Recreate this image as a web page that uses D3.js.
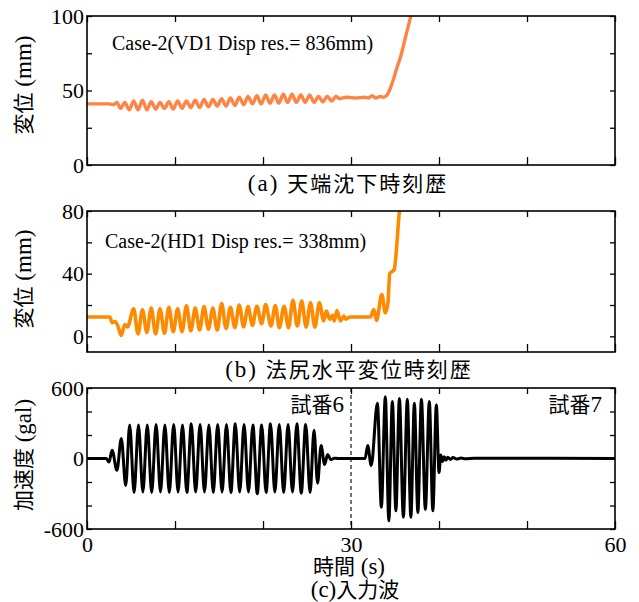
<!DOCTYPE html>
<html>
<head>
<meta charset="utf-8">
<script src="https://cdn.jsdelivr.net/npm/d3@7"></script>
<style>
  body { margin: 0; background: #fff; }
  svg { display: block; }
</style>
</head>
<body>
<div class="chart"></div>
<script>
// time (s) / value pairs
const settlement = [
  [0, 41], [2.5, 41], [3.0, 40.5], [3.4, 42], [3.8, 38], [4.3, 42], [4.8, 37], [5.3, 43], [5.8, 37],
  [6.3, 43.5], [6.8, 37], [7.3, 42.5], [7.8, 37.5], [8.3, 42], [8.8, 38], [9.3, 42.5], [9.8, 37.5],
  [10.3, 43], [10.8, 38], [11.3, 43], [11.8, 38.5], [12.3, 43.5], [12.8, 38.5], [13.3, 44], [13.8, 39],
  [14.3, 44], [14.8, 39.5], [15.3, 44.5], [15.8, 39.5], [16.3, 45], [16.8, 40], [17.3, 45.5], [17.8, 40.5],
  [18.3, 46], [18.8, 41], [19.3, 46.5], [19.8, 41], [20.3, 47], [20.8, 41.5], [21.3, 47], [21.8, 41.5],
  [22.3, 47.5], [22.8, 42], [23.3, 47.5], [23.8, 42], [24.3, 47], [24.8, 42], [25.3, 47], [25.8, 42],
  [26.3, 46], [26.8, 42.5], [27.3, 46], [27.8, 43], [28.3, 46], [28.7, 44.5], [29.5, 45.5], [30.5, 45],
  [31.5, 45.5], [32.0, 45], [32.4, 46.5], [32.8, 45], [33.3, 46], [33.7, 45.5], [34.1, 47], [34.8, 57],
  [35.2, 65], [35.6, 72], [36.2, 86], [36.8, 100], [37.5, 115]
]

const toeDisp = [
  [0, 12.3], [2.6, 12.3], [2.85, 8.7], [3.2, 9.5], [3.5, 6.6], [3.9, 0.5], [4.3, 7.6], [4.6, 6],
  [5.3, 17.5], [5.8, 1.5], [6.3, 17], [6.8, 2.5], [7.3, 18], [7.8, 1.5], [8.3, 17.5], [8.8, 2],
  [9.3, 18.5], [9.8, 3], [10.3, 17.5], [10.8, 3], [11.3, 19.5], [11.8, 3.5], [12.3, 18], [12.8, 4],
  [13.3, 19], [13.8, 4.5], [14.3, 18], [14.8, 4], [15.3, 21], [15.8, 5], [16.3, 18.5], [16.8, 5.5],
  [17.3, 20], [17.8, 6], [18.3, 19], [18.8, 7], [19.3, 19.2], [19.85, 8], [20.3, 20.3], [20.9, 6.6],
  [21.4, 19.6], [21.85, 5.5], [22.4, 19.2], [22.9, 5.5], [23.4, 23], [23.9, 6.6], [24.4, 22.5], [24.9, 5.9],
  [25.4, 21.4], [25.9, 5.9], [26.4, 21.4], [26.9, 9.8], [27.2, 16.1], [27.6, 10.8], [27.9, 13.5], [28.1, 9.8],
  [28.4, 16.5], [28.8, 9.8], [29.2, 12.9], [29.4, 11], [29.9, 12.3], [32.2, 12.3], [32.6, 17.1], [32.9, 10.2],
  [33.5, 26.7], [33.9, 15], [34.2, 21.4], [34.4, 40], [34.9, 42.5], [35.5, 80], [36, 105]
]

const inputWave = [
  [0, 0], [2.2, 0], [2.5, -30], [2.85, 70], [3.4, -100], [3.9, 170], [4.4, -230], [4.85, 285], [5.35, -290],
  [5.85, 285], [6.35, -285], [6.85, 285], [7.35, -290], [7.85, 290], [8.35, -285], [8.85, 285], [9.35, -290],
  [9.85, 290], [10.35, -285], [10.85, 285], [11.35, -290], [11.85, 295], [12.35, -285], [12.85, 290],
  [13.35, -285], [13.85, 285], [14.35, -290], [14.85, 290], [15.35, -285], [15.85, 290], [16.35, -290],
  [16.85, 295], [17.35, -285], [17.85, 290], [18.35, -285], [18.85, 285], [19.35, -300], [19.85, 285],
  [20.35, -290], [20.85, 295], [21.35, -285], [21.85, 290], [22.35, -290], [22.85, 290], [23.35, -285],
  [23.85, 295], [24.35, -295], [24.85, 290], [25.35, -290], [25.8, 240], [26.2, -210], [26.6, 110],
  [27.0, -50], [27.35, 35], [27.7, -10], [28.1, 3], [28.5, 0], [31.6, 0], [31.9, 110], [32.3, -60],
  [33.0, 470], [33.45, -415], [33.9, 525], [34.3, -530], [34.7, 485], [35.1, -445], [35.5, 510],
  [35.95, -500], [36.4, 505], [36.8, -500], [37.2, 470], [37.6, -460], [38.0, 505], [38.45, -435],
  [38.9, 485], [39.3, -445], [39.7, 455], [40.0, -120], [40.2, 30], [40.4, -25], [40.6, 15], [40.8, -15],
  [41.0, 10], [41.3, -8], [41.6, 8], [42, -5], [42.5, 4], [43, -3], [44, 2], [60, 0]
]

const xTicks = [0, 10, 20, 30, 40, 50, 60]
const xTickLabels = [0, 30, 60]

const W = 639
const H = 602
const SERIF = '"Liberation Serif", "Times New Roman", serif'
const JP = '"Noto Sans CJK JP", "Noto Sans CJK SC", sans-serif'

const svg = d3.select('.chart').append('svg')
  .attr('width', W)
  .attr('height', H)

const x = d3.scaleLinear().domain([0, 60]).range([87, 615])

let clipId = 0

function panel ({ top, bottom, domain, yTicks, yTickLabels, data, color, lineWidth, showX }) {
  const y = d3.scaleLinear().domain(domain).range([bottom, top])
  const g = svg.append('g')
  const id = 'clip' + (clipId++)

  g.append('clipPath').attr('id', id)
    .append('rect')
    .attr('x', x.range()[0]).attr('y', top)
    .attr('width', x.range()[1] - x.range()[0]).attr('height', bottom - top)

  const line = d3.line()
    .x(d => x(d[0]))
    .y(d => y(d[1]))
    .curve(d3.curveMonotoneX)

  g.append('path')
    .datum(data)
    .attr('clip-path', `url(#${id})`)
    .attr('fill', 'none')
    .attr('stroke', color)
    .attr('stroke-width', lineWidth)
    .attr('stroke-linejoin', 'round')
    .attr('d', line)

  // ticks all round, pointing inward
  const axB = g.append('g').attr('transform', `translate(0,${bottom})`)
    .call(d3.axisBottom(x).tickValues(xTicks).tickSize(-8).tickSizeOuter(0)
      .tickFormat(d => showX && xTickLabels.includes(d) ? d : ''))
  const axT = g.append('g').attr('transform', `translate(0,${top})`)
    .call(d3.axisTop(x).tickValues(xTicks).tickSize(-6).tickSizeOuter(0).tickFormat(''))
  const axL = g.append('g').attr('transform', `translate(${x.range()[0]},0)`)
    .call(d3.axisLeft(y).tickValues(yTicks).tickSize(-5).tickSizeOuter(0)
      .tickFormat(d => yTickLabels.includes(d) ? d : ''))
  const axR = g.append('g').attr('transform', `translate(${x.range()[1]},0)`)
    .call(d3.axisRight(y).tickValues(yTicks).tickSize(-5).tickSizeOuter(0).tickFormat(''))

  for (const ax of [axB, axT, axL, axR]) {
    ax.select('.domain').remove()
    ax.selectAll('line').attr('stroke', '#000').attr('stroke-width', 1.3)
    ax.selectAll('text').attr('fill', '#000')
      .style('font-family', SERIF).style('font-size', '22px')
  }
  axL.selectAll('text').attr('x', -3)
  axB.selectAll('text').attr('y', 7)

  g.append('rect')
    .attr('x', x.range()[0]).attr('y', top)
    .attr('width', x.range()[1] - x.range()[0]).attr('height', bottom - top)
    .attr('fill', 'none').attr('stroke', '#000').attr('stroke-width', 1.6)

  return { g, y }
}

// one text, serif latin and gothic japanese parts
function mixedText (parent, parts, attrs) {
  const t = parent.append('text').attr('fill', '#000')
  Object.entries(attrs).forEach(([k, v]) => t.attr(k, v))
  parts.forEach(([s, font]) => {
    const span = t.append('tspan').text(s).style('font-family', font)
    if (font === JP) span.style('font-size', '21px')
    else span.style('font-size', '23px')
  })
  return t
}

function yTitle (cy, parts) {
  mixedText(svg, parts, {
    transform: `translate(31,${cy}) rotate(-90)`,
    'text-anchor': 'middle'
  })
}

// (a) crest settlement
const a = panel({
  top: 16, bottom: 165, domain: [0, 100],
  yTicks: [0, 25, 50, 75, 100], yTickLabels: [0, 50, 100],
  data: settlement, color: '#ff8443', lineWidth: 3.4, showX: false
})
a.g.append('text').attr('x', 112).attr('y', 50)
  .style('font-family', SERIF).style('font-size', '20px')
  .text('Case-2(VD1 Disp res.= 836mm)')
yTitle(85, [['変位', JP], [' (mm)', SERIF]])
mixedText(svg, [['(a) ', SERIF], ['天端沈下時刻歴', JP]], {
  x: 348, y: 191, 'text-anchor': 'middle', 'letter-spacing': 2
})

// (b) toe horizontal displacement
const b = panel({
  top: 211, bottom: 352, domain: [-10, 80],
  yTicks: [0, 20, 40, 60, 80], yTickLabels: [0, 40, 80],
  data: toeDisp, color: '#ff8a00', lineWidth: 3.6, showX: false
})
b.g.append('text').attr('x', 105).attr('y', 248)
  .style('font-family', SERIF).style('font-size', '20px')
  .text('Case-2(HD1 Disp res.= 338mm)')
yTitle(279, [['変位', JP], [' (mm)', SERIF]])
mixedText(svg, [['(b) ', SERIF], ['法尻水平変位時刻歴', JP]], {
  x: 349, y: 377, 'text-anchor': 'middle', 'letter-spacing': 2
})

// (c) input wave
const c = panel({
  top: 388, bottom: 529, domain: [-600, 600],
  yTicks: [-600, -400, -200, 0, 200, 400, 600], yTickLabels: [-600, 0, 600],
  data: inputWave, color: '#000', lineWidth: 3, showX: true
})
c.g.append('line')
  .attr('x1', x(30)).attr('x2', x(30))
  .attr('y1', 388).attr('y2', 529)
  .attr('stroke', '#000').attr('stroke-width', 1.1)
  .attr('stroke-dasharray', '4,3')
mixedText(c.g, [['試番', JP], ['6', SERIF]], {
  x: 344, y: 412, 'text-anchor': 'end'
})
mixedText(c.g, [['試番', JP], ['7', SERIF]], {
  x: 602, y: 412, 'text-anchor': 'end'
})
yTitle(455, [['加速度', JP], [' (gal)', SERIF]])
mixedText(svg, [['時間', JP], [' (s)', SERIF]], {
  x: 349, y: 574, 'text-anchor': 'middle'
})
mixedText(svg, [['(c)', SERIF], ['入力波', JP]], {
  x: 355, y: 597, 'text-anchor': 'middle'
})
</script>
</body>
</html>
